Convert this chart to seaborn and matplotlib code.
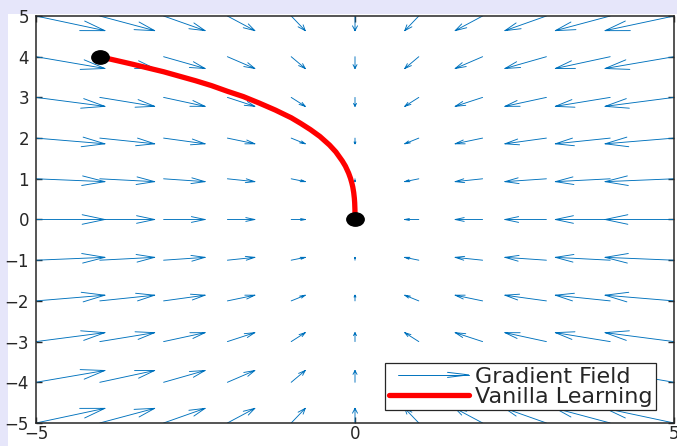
import numpy as np
import matplotlib
matplotlib.use("Agg")
import matplotlib.pyplot as plt
import seaborn as sns
from matplotlib.lines import Line2D
from matplotlib.legend_handler import HandlerBase
from matplotlib.patches import Rectangle
from matplotlib.path import Path
from matplotlib.transforms import Affine2D

# grid where the field arrows start
grid_x = [-5, -4, -3, -2, -1, 0, 1, 2, 3, 4, 5]
grid_y = [-5, -4, -3, -2, -1, 0, 1, 2, 3, 4, 5]

# arrow components (x part per column, y part per row)
field_u = [1.08, 0.86, 0.65, 0.43, 0.22, 0.0, -0.22, -0.43, -0.65, -0.86, -1.08]
field_v = [0.36, 0.29, 0.22, 0.14, 0.07, 0.0, -0.07, -0.14, -0.22, -0.29, -0.36]

# vanilla learning trajectory
path_x = [-4.0, -3.5, -3.0, -2.5, -2.25, -2.0, -1.75, -1.5, -1.25, -1.0, -0.85,
          -0.7, -0.55, -0.4, -0.3, -0.2, -0.15, -0.1, -0.07, -0.05, -0.035,
          -0.02, -0.01, -0.005, -0.001, -0.0002, 0.0]
path_y = [4.0, 3.82, 3.63, 3.41, 3.29, 3.15, 3.02, 2.86, 2.69, 2.50, 2.36,
          2.21, 2.04, 1.83, 1.66, 1.44, 1.31, 1.14, 1.01, 0.90, 0.80,
          0.66, 0.52, 0.41, 0.24, 0.14, 0.0]

FIELD_BLUE = '#0072BD'
DARK = '#262626'

sns.set_style('ticks')
plt.rcParams['font.family'] = ['DejaVu Sans']


class ArrowHandler(HandlerBase):
    # legend key drawn as a matlab style open arrow
    def create_artists(self, legend, orig, xdescent, ydescent, width, height, fontsize, trans):
        y = height / 2 - ydescent
        x0, x1 = -xdescent, width - xdescent
        x0 = x0 + 0.12 * (x1 - x0)
        hl = 0.3 * (x1 - x0)
        hw = 0.12 * hl
        shaft = Line2D([x0, x1], [y, y], color=FIELD_BLUE, lw=0.7)
        head = Line2D([x1 - hl, x1, x1 - hl], [y + hw, y, y - hw], color=FIELD_BLUE, lw=0.7)
        shaft.set_transform(trans)
        head.set_transform(trans)
        return [shaft, head]


fig = plt.figure(figsize=(6.77, 4.46), dpi=100)
fig.patch.set_facecolor('#e6e6fa')
fig.add_artist(Rectangle((8 / 677, 0), 1, 1 - 14 / 446, transform=fig.transFigure,
                         facecolor='white', edgecolor='none', zorder=-1))

ax = fig.add_axes([36 / 677, 1 - 423 / 446, (674 - 36) / 677, (423 - 16) / 446])
ax.set_facecolor('white')

# build the quiver the way matlab draws it: shaft plus two barbs
X, Y = np.meshgrid(grid_x, grid_y)
U, _ = np.meshgrid(field_u, grid_y)
_, V = np.meshgrid(grid_x, field_v)
alpha, beta = 0.33, 0.33
xs, ys = [], []
for x, y, u, v in zip(X.ravel(), Y.ravel(), U.ravel(), V.ravel()):
    if u == 0 and v == 0:
        continue
    tx, ty = x + u, y + v
    xs += [x, tx, np.nan,
           tx - alpha * (u + beta * v), tx, tx - alpha * (u - beta * v), np.nan]
    ys += [y, ty, np.nan,
           ty - alpha * (v - beta * u), ty, ty - alpha * (v + beta * u), np.nan]
ax.plot(xs, ys, color=FIELD_BLUE, lw=0.65, zorder=2)

sns.lineplot(x=path_x, y=path_y, sort=False, estimator=None, color='#ff0000',
             lw=3.8, ax=ax, zorder=3, legend=False)

dot = Path.unit_circle().transformed(Affine2D().scale(1.3, 1.0))
ax.plot([path_x[0], path_x[-1]], [path_y[0], path_y[-1]], linestyle='none',
        marker=dot, ms=12.5, color='black', zorder=4)

ax.set_xlim(-5, 5)
ax.set_ylim(-5, 5)
ax.set_xticks([-5, 0, 5])
ax.set_yticks(grid_y)
ax.tick_params(direction='in', top=True, right=True, length=4, width=1,
               labelsize=12, colors=DARK)
ax.tick_params(axis='y', pad=5)
ax.tick_params(axis='x', pad=1.5)
for s in ax.spines.values():
    s.set_visible(True)
    s.set_color(DARK)
    s.set_linewidth(1.1)

handles = [Line2D([], [], color=FIELD_BLUE), Line2D([], [], color='#ff0000', lw=3.8)]
leg = ax.legend(handles, ['Gradient Field', 'Vanilla Learning'],
                handler_map={handles[0]: ArrowHandler()},
                loc='lower right', bbox_to_anchor=(0.972, 0.032), borderaxespad=0,
                fontsize=16, handlelength=3.6, handletextpad=0.3,
                labelspacing=0.0, borderpad=0.15, fancybox=False, framealpha=1,
                edgecolor=DARK)
leg.get_frame().set_linewidth(0.9)
leg.set_zorder(5)

fig.savefig('out.png', dpi=100, facecolor=fig.get_facecolor())
